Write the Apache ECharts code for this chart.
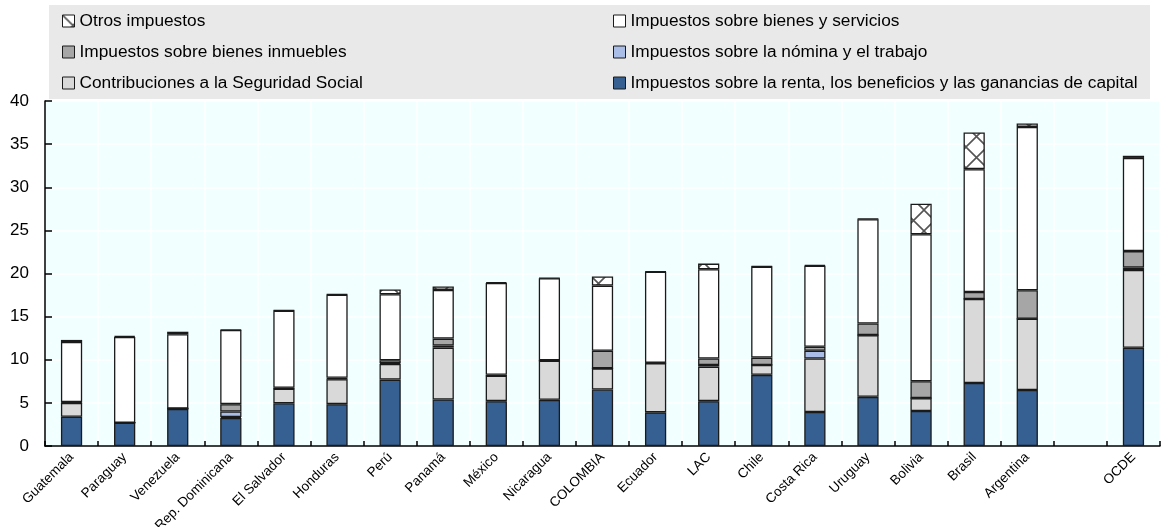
<!DOCTYPE html>
<html>
<head>
<meta charset="utf-8">
<script src="https://cdn.jsdelivr.net/npm/echarts@6/dist/echarts.min.js"></script>
<style>
  html, body { margin: 0; padding: 0; background: #fff; }
  #chart { width: 1164px; height: 527px; }
</style>
</head>
<body>
<div id="chart"></div>
<script>
// categorías (hueco vacío antes de OCDE)
const categories = ['Guatemala', 'Paraguay', 'Venezuela', 'Rep. Dominicana', 'El Salvador', 'Honduras', 'Perú', 'Panamá', 'México', 'Nicaragua', 'COLOMBIA', 'Ecuador', 'LAC', 'Chile', 'Costa Rica', 'Uruguay', 'Bolivia', 'Brasil', 'Argentina', '', 'OCDE']

const renta = [3.4, 2.7, 4.3, 3.25, 4.95, 4.85, 7.7, 5.4, 5.2, 5.35, 6.55, 3.9, 5.2, 8.25, 3.95, 5.7, 4.05, 7.3, 6.5, null, 11.4]
const seguridadSocial = [1.6, 0, 0.05, 0.1, 1.7, 2.9, 1.8, 6.0, 2.95, 4.55, 2.45, 5.7, 4.0, 1.15, 6.2, 7.15, 1.5, 9.75, 8.25, null, 9.0]
const nomina = [0, 0, 0, 0.65, 0, 0.05, 0.1, 0.25, 0, 0, 0, 0, 0.2, 0, 0.9, 0, 0, 0, 0, null, 0.3]
const inmuebles = [0.1, 0, 0, 0.85, 0.1, 0.1, 0.35, 0.8, 0.1, 0.05, 2.05, 0.05, 0.75, 0.85, 0.45, 1.35, 1.95, 0.8, 3.3, null, 1.9]
const bienes = [6.95, 9.95, 8.6, 8.6, 8.95, 9.65, 7.65, 5.65, 10.65, 9.5, 7.55, 10.55, 10.35, 10.55, 9.4, 12.1, 17.05, 14.25, 18.95, null, 10.8]
const otros = [0.25, 0.1, 0.3, 0.05, 0.05, 0.05, 0.55, 0.4, 0.1, 0.05, 1.05, 0.05, 0.65, 0.05, 0.1, 0.05, 3.55, 4.25, 0.4, null, 0.25]

const yTicks = [0, 5, 10, 15, 20, 25, 30, 35, 40]

// trama en X para "Otros impuestos"
function makePattern() {
  const c = document.createElement('canvas')
  c.width = 21
  c.height = 21
  const ctx = c.getContext('2d')
  ctx.fillStyle = '#fff'
  ctx.fillRect(0, 0, 21, 21)
  ctx.strokeStyle = '#555'
  ctx.lineWidth = 1.6
  ctx.beginPath()
  ctx.moveTo(0, 0); ctx.lineTo(21, 21)
  ctx.moveTo(21, 0); ctx.lineTo(0, 21)
  ctx.stroke()
  return c
}

const chart = echarts.init(document.getElementById('chart'), null, { renderer: 'canvas' })

const border = { borderColor: '#1a1a1a', borderWidth: 1.3 }

function bar(name, values, color) {
  return {
    name: name,
    type: 'bar',
    stack: 'total',
    barWidth: '40%',
    itemStyle: Object.assign({ color: color }, border),
    data: values
  }
}

const legendText = { fontFamily: 'Liberation Sans', fontSize: 17.3, color: '#000', lineHeight: 18 }

chart.setOption({
  animation: false,
  textStyle: { fontFamily: 'Liberation Sans' },
  graphic: [
    {
      type: 'rect',
      shape: { x: 49, y: 5, width: 1101, height: 94 },
      style: { fill: '#e9e9e9' },
      z: -10
    }
  ],
  legend: [
    {
      orient: 'vertical',
      left: 57,
      top: 7,
      itemGap: 13,
      itemWidth: 12,
      itemHeight: 12,
      icon: 'rect',
      textStyle: legendText,
      itemStyle: { borderColor: '#1a1a1a', borderWidth: 1 },
      data: ['Otros impuestos', 'Impuestos sobre bienes inmuebles', 'Contribuciones a la Seguridad Social']
    },
    {
      orient: 'vertical',
      left: 608,
      top: 7,
      itemGap: 13,
      itemWidth: 12,
      itemHeight: 12,
      icon: 'rect',
      textStyle: legendText,
      itemStyle: { borderColor: '#1a1a1a', borderWidth: 1 },
      data: ['Impuestos sobre bienes y servicios', 'Impuestos sobre la nómina y el trabajo', 'Impuestos sobre la renta, los beneficios y las ganancias de capital']
    }
  ],
  grid: {
    left: 45,
    right: 4,
    top: 101,
    bottom: 81,
    outerBoundsMode: 'none',
    show: true,
    backgroundColor: '#f2ffff',
    borderWidth: 0
  },
  xAxis: {
    type: 'category',
    data: categories,
    axisLine: { lineStyle: { color: '#000', width: 1.5 } },
    axisTick: { show: true, inside: true, length: 5, lineStyle: { color: '#000', width: 1.5 } },
    splitLine: { show: true, lineStyle: { color: '#fff', width: 1.5 } },
    axisLabel: {
      interval: 0,
      rotate: 45,
      fontSize: 13.5,
      color: '#000',
      margin: 9
    }
  },
  yAxis: {
    type: 'value',
    min: yTicks[0],
    max: yTicks[yTicks.length - 1],
    interval: 5,
    axisLine: { show: true, lineStyle: { color: '#000', width: 1.5 } },
    axisTick: { show: true, inside: true, length: 7, lineStyle: { color: '#000', width: 1.5 } },
    splitLine: { show: true, lineStyle: { color: '#fff', width: 1.5 } },
    axisLabel: { fontSize: 17, color: '#000', margin: 16 }
  },
  series: [
    bar('Impuestos sobre la renta, los beneficios y las ganancias de capital', renta, '#376092'),
    bar('Contribuciones a la Seguridad Social', seguridadSocial, '#d9d9d9'),
    bar('Impuestos sobre la nómina y el trabajo', nomina, '#a9bde6'),
    bar('Impuestos sobre bienes inmuebles', inmuebles, '#a6a6a6'),
    bar('Impuestos sobre bienes y servicios', bienes, '#ffffff'),
    bar('Otros impuestos', otros, { image: makePattern(), repeat: 'repeat' })
  ]
})
</script>
</body>
</html>
